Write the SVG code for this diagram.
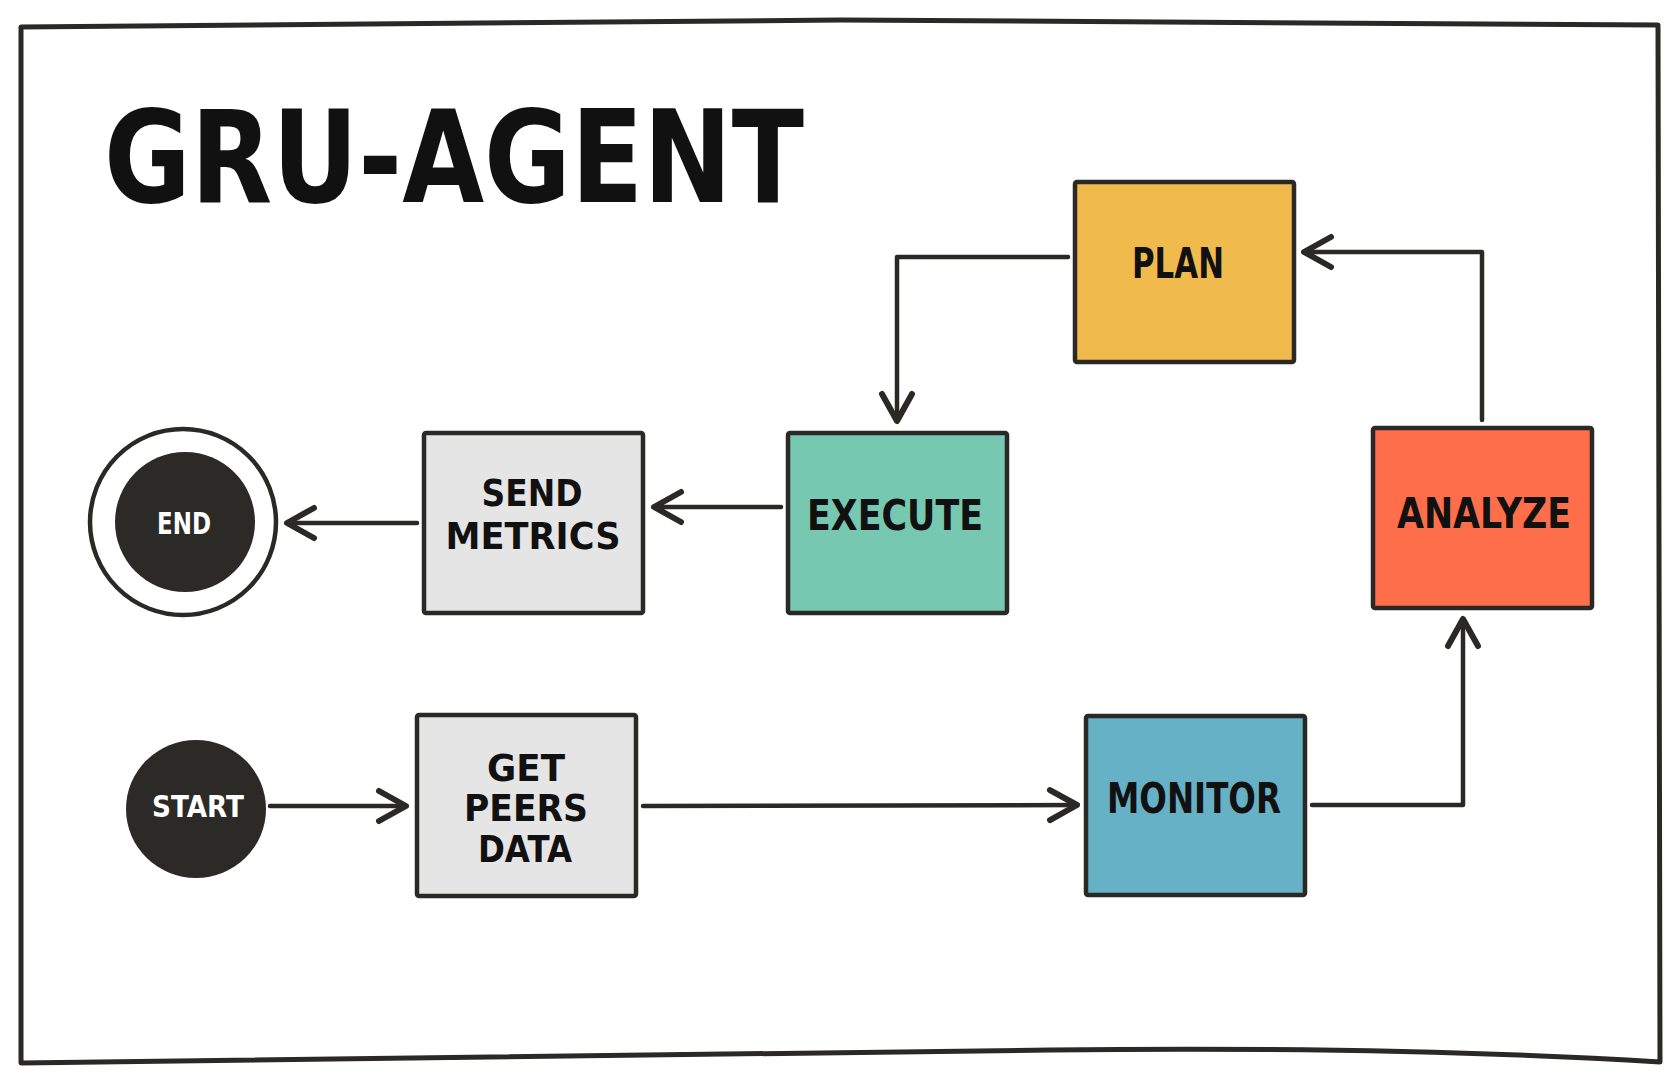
<svg xmlns="http://www.w3.org/2000/svg" width="1680" height="1077" viewBox="0 0 1680 1077">
  <style>
    .box { stroke: #2a2925; stroke-width: 4.5; stroke-linejoin: round; }
    .lbl { font-family: "DejaVu Sans", "Liberation Sans", sans-serif; font-weight: bold; font-size: 42px; fill: #111; text-anchor: middle; }
    .lbl2 { font-family: "DejaVu Sans", "Liberation Sans", sans-serif; font-weight: bold; font-size: 37px; fill: #111; text-anchor: middle; }
    .wlbl { font-family: "DejaVu Sans", "Liberation Sans", sans-serif; font-weight: bold; font-size: 30px; fill: #fff; text-anchor: middle; }
    .conn { fill: none; stroke: #2a2925; stroke-width: 4.5; stroke-linecap: round; stroke-linejoin: round; }
    .title { font-family: "DejaVu Sans", "Liberation Sans", sans-serif; font-weight: bold; font-size: 128px; fill: #111; }
  </style>
  <defs>
    <marker id="arr" markerUnits="userSpaceOnUse" markerWidth="40" markerHeight="40" viewBox="-34 -20 40 40" refX="0" refY="0" orient="auto">
      <path d="M-27,-15 L0,0 L-27,15" fill="none" stroke="#2a2925" stroke-width="6" stroke-linecap="round" stroke-linejoin="round"/>
    </marker>
  </defs>
  <rect width="1680" height="1077" fill="#ffffff"/>
  <g id="frame">
    <path d="M21,27 Q400,22 840,20 Q1300,22 1658,25 L1660,1062 Q1400,1046 1050,1050 Q500,1058 21,1063 Z" fill="none" stroke="#2a2925" stroke-width="5" stroke-linejoin="round"/>
  </g>
  <g id="title">
    <text class="title" x="104" y="202" textLength="700" lengthAdjust="spacingAndGlyphs">GRU-AGENT</text>
  </g>
  <g id="connectors">
    <path class="conn" d="M270,806 L406,806" marker-end="url(#arr)"/>
    <path class="conn" d="M643,806 L1077,805" marker-end="url(#arr)"/>
    <path class="conn" d="M1312,805 L1463,805 L1463,619" marker-end="url(#arr)"/>
    <path class="conn" d="M1482,420 L1482,252 L1304,252" marker-end="url(#arr)"/>
    <path class="conn" d="M1068,257 L897,257 L897,421" marker-end="url(#arr)"/>
    <path class="conn" d="M781,507 L654,507" marker-end="url(#arr)"/>
    <path class="conn" d="M417,523 L287,523" marker-end="url(#arr)"/>
  </g>
  <g id="start">
    <ellipse cx="196" cy="809" rx="70" ry="69" fill="#2b2a26"/>
    <text class="wlbl" x="198" y="817" textLength="92" lengthAdjust="spacingAndGlyphs">START</text>
  </g>
  <g id="get-peers-data">
    <rect class="box" x="417" y="715" width="219" height="181" rx="2" fill="#e5e5e5"/>
    <text class="lbl2" x="526" y="781" textLength="78" lengthAdjust="spacingAndGlyphs">GET</text>
    <text class="lbl2" x="526" y="821" textLength="124" lengthAdjust="spacingAndGlyphs">PEERS</text>
    <text class="lbl2" x="525" y="862" textLength="94" lengthAdjust="spacingAndGlyphs">DATA</text>
  </g>
  <g id="monitor">
    <rect class="box" x="1086" y="716" width="219" height="179" rx="2" fill="#67b1c7"/>
    <text class="lbl" x="1194" y="813" textLength="174" lengthAdjust="spacingAndGlyphs">MONITOR</text>
  </g>
  <g id="analyze">
    <rect class="box" x="1373" y="428" width="219" height="180" rx="2" fill="#fe6e4a"/>
    <text class="lbl" x="1484" y="528" textLength="174" lengthAdjust="spacingAndGlyphs">ANALYZE</text>
  </g>
  <g id="plan">
    <rect class="box" x="1075" y="182" width="219" height="180" rx="2" fill="#f1ba4c"/>
    <text class="lbl" x="1178" y="278" textLength="92" lengthAdjust="spacingAndGlyphs">PLAN</text>
  </g>
  <g id="execute">
    <rect class="box" x="788" y="433" width="219" height="180" rx="2" fill="#76c9b0"/>
    <text class="lbl" x="895" y="530" textLength="176" lengthAdjust="spacingAndGlyphs">EXECUTE</text>
  </g>
  <g id="send-metrics">
    <rect class="box" x="424" y="433" width="219" height="180" rx="2" fill="#e5e5e5"/>
    <text class="lbl2" x="532" y="506" textLength="101" lengthAdjust="spacingAndGlyphs">SEND</text>
    <text class="lbl2" x="533" y="549" textLength="175" lengthAdjust="spacingAndGlyphs">METRICS</text>
  </g>
  <g id="end">
    <circle cx="183" cy="522" r="93" fill="#ffffff" stroke="#2a2925" stroke-width="4.5"/>
    <circle cx="185" cy="522" r="70" fill="#2b2a26"/>
    <text class="wlbl" x="184" y="534" textLength="54" lengthAdjust="spacingAndGlyphs">END</text>
  </g>
</svg>
